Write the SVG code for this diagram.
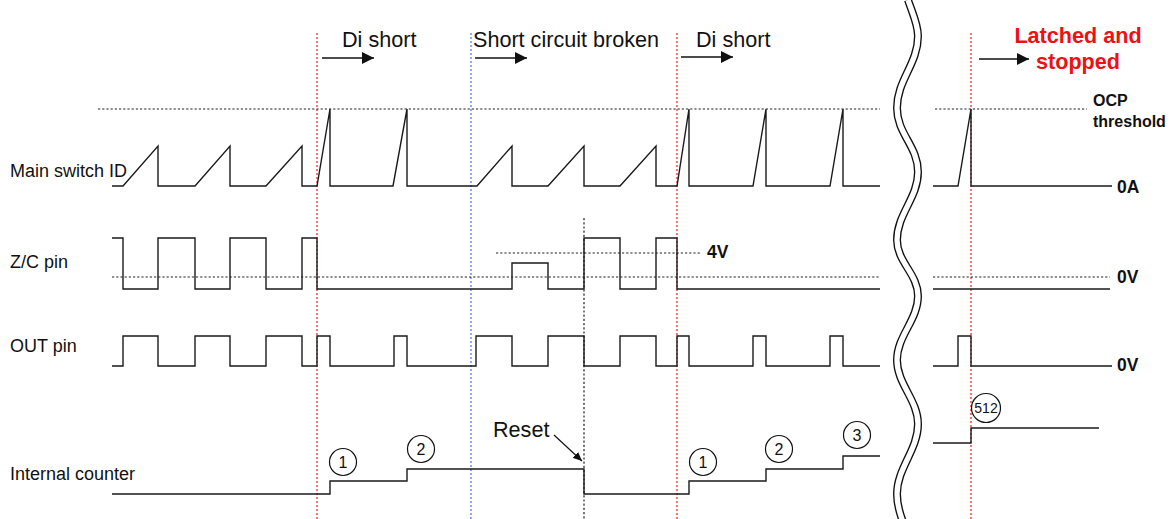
<svg xmlns="http://www.w3.org/2000/svg" width="1176" height="519" viewBox="0 0 1176 519">
<style>
.bg{fill:#ffffff}
.wave{fill:none;stroke:#1a1a1a;stroke-width:1.4;stroke-linejoin:miter}
.dotk{fill:none;stroke:#222;stroke-width:1.2;stroke-dasharray:2.2,2}
.dotr{fill:none;stroke:#ff0000;stroke-width:1.1;stroke-dasharray:2,2}
.dotb{fill:none;stroke:#3366ee;stroke-width:1.1;stroke-dasharray:2,2}
.lbl{font-family:"Liberation Sans",Arial,sans-serif;font-size:18px;fill:#111}
.big{font-family:"Liberation Sans",Arial,sans-serif;font-size:21.6px;fill:#111}
.bold{font-family:"Liberation Sans",Arial,sans-serif;font-weight:bold;font-size:17.5px;fill:#111}
.red{font-family:"Liberation Sans",Arial,sans-serif;font-weight:bold;font-size:21.6px;fill:#ee1111}
.arr{fill:none;stroke:#111;stroke-width:1.4}
.circ{fill:#fff;stroke:#111;stroke-width:1.2}
.num{font-family:"Liberation Sans",Arial,sans-serif;font-size:16px;fill:#111;text-anchor:middle}
</style>
<defs>
<marker id="ah" markerWidth="12" markerHeight="12" refX="12" refY="6" orient="auto" markerUnits="userSpaceOnUse"><path d="M0,0 L12,6 L0,12 z" fill="#111"/></marker>
<marker id="ahs" markerWidth="9" markerHeight="8" refX="9" refY="4" orient="auto" markerUnits="userSpaceOnUse"><path d="M0,0 L9,4 L0,8 z" fill="#111"/></marker>
</defs>
<rect class="bg" x="0" y="0" width="1176" height="519"/>

<g id="guides">
<line class="dotr" x1="317" y1="33" x2="317" y2="519"/>
<line class="dotb" x1="471" y1="33" x2="471" y2="519"/>
<line class="dotr" x1="677" y1="33" x2="677" y2="519"/>
<line class="dotr" x1="971" y1="33" x2="971" y2="519"/>
<line class="dotk" x1="584" y1="218" x2="584" y2="519"/>
<line class="dotk" x1="98" y1="109" x2="880" y2="109"/>
<line class="dotk" x1="935" y1="109" x2="1087" y2="109"/>
<line class="dotk" x1="112" y1="277" x2="880" y2="277"/>
<line class="dotk" x1="933" y1="277" x2="1110" y2="277"/>
<line class="dotk" x1="496" y1="253" x2="701" y2="253"/>
</g>

<g id="labels">
<text class="lbl" x="10" y="177">Main switch ID</text>
<text class="lbl" x="10" y="268">Z/C pin</text>
<text class="lbl" x="10" y="352">OUT pin</text>
<text class="lbl" x="10" y="480">Internal counter</text>
<text class="big" x="342" y="47">Di short</text>
<text class="big" x="473" y="47">Short circuit broken</text>
<text class="big" x="696" y="47">Di short</text>
<text class="big" x="493" y="437">Reset</text>
<text class="red" x="1078" y="43" text-anchor="middle">Latched and</text>
<text class="red" x="1078" y="69" text-anchor="middle">stopped</text>
<text class="bold" x="1093" y="106" style="font-size:16px">OCP</text>
<text class="bold" x="1093" y="127" style="font-size:16px">threshold</text>
<text class="bold" x="1117" y="193">0A</text>
<text class="bold" x="707" y="258">4V</text>
<text class="bold" x="1117" y="283">0V</text>
<text class="bold" x="1117" y="371">0V</text>
</g>

<g id="main-id">
<polyline class="wave" points="112,186 123,186 158,146 158,186 195,186 230,146 230,186 266,186 302,146 302,186 317,186 330,109 330,186 393,186 407,109 407,186 477,186 512,146 512,186 548,186 584,146 584,186 620,186 656,146 656,186 677,186 689,109 689,186 753,186 766,109 766,186 830,186 843,109 843,186 880,186"/>
<polyline class="wave" points="933,186 958,186 971,109 971,186 1112,186"/>
</g>

<g id="zc-pin">
<polyline class="wave" points="112,238 123,238 123,289 158,289 158,238 195,238 195,289 230,289 230,238 266,238 266,289 302,289 302,238 317,238 317,289 512,289 512,263 548,263 548,289 584,289 584,238 620,238 620,289 656,289 656,238 677,238 677,289 880,289"/>
<polyline class="wave" points="933,289 1110,289"/>
</g>

<g id="out-pin">
<polyline class="wave" points="112,366 123,366 123,336 158,336 158,366 195,366 195,336 230,336 230,366 266,366 266,336 302,336 302,366 317,366 317,336 330,336 330,366 394,366 394,336 407,336 407,366 476,366 476,336 512,336 512,366 548,366 548,336 584,336 584,366 620,366 620,336 656,336 656,366 677,366 677,336 689,336 689,366 753,366 753,336 766,336 766,366 830,366 830,336 843,336 843,366 880,366"/>
<polyline class="wave" points="933,366 958,366 958,336 971,336 971,366 1112,366"/>
</g>

<g id="counter">
<polyline class="wave" points="112,494 330,494 330,481 407,481 407,469 584,469 584,494 689,494 689,481 766,481 766,469 843,469 843,456 880,456"/>
<polyline class="wave" points="933,443 971,443 971,428 1099,428"/>
</g>

<g id="counts">
<circle class="circ" cx="343" cy="462" r="13.5"/><text class="num" x="343" y="468">1</text>
<circle class="circ" cx="421" cy="449" r="13.5"/><text class="num" x="421" y="455">2</text>
<circle class="circ" cx="703" cy="462" r="13.5"/><text class="num" x="703" y="468">1</text>
<circle class="circ" cx="779" cy="449" r="13.5"/><text class="num" x="779" y="455">2</text>
<circle class="circ" cx="857" cy="435" r="13.5"/><text class="num" x="857" y="441">3</text>
<circle class="circ" cx="986" cy="408" r="14.5"/><text class="num" x="986" y="413" style="font-size:14px">512</text>
</g>

<g id="break">
<path d="M908,0 C912,12 918,24 918,36 C918,64 897,80 897,108 C897,134 918,146 918,172 C918,198 897,214 897,240 C897,262 918,274 918,296 C918,320 897,336 897,360 C897,384 918,400 918,424 C918,450 897,468 897,494 C897,506 900,514 903,522" fill="none" stroke="#111" stroke-width="8"/>
<path d="M908,0 C912,12 918,24 918,36 C918,64 897,80 897,108 C897,134 918,146 918,172 C918,198 897,214 897,240 C897,262 918,274 918,296 C918,320 897,336 897,360 C897,384 918,400 918,424 C918,450 897,468 897,494 C897,506 900,514 903,522" fill="none" stroke="#fff" stroke-width="5.3"/>
</g>

<g id="connectors">
<line class="arr" x1="322" y1="58" x2="374" y2="58" marker-end="url(#ah)"/>
<line class="arr" x1="475" y1="58" x2="527" y2="58" marker-end="url(#ah)"/>
<line class="arr" x1="681" y1="57" x2="733" y2="57" marker-end="url(#ah)"/>
<line class="arr" x1="979" y1="59" x2="1029" y2="59" marker-end="url(#ah)"/>
<line class="arr" x1="554" y1="435" x2="582" y2="461" style="stroke-width:1.2" marker-end="url(#ahs)"/>
</g>
</svg>
